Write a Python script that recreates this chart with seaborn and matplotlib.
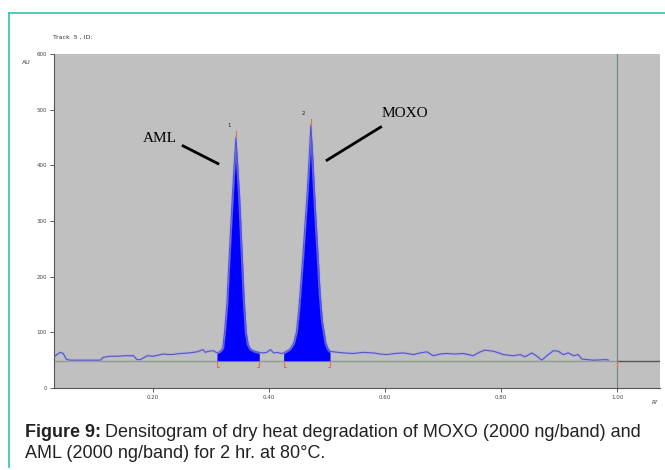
import numpy as np
import pandas as pd
import matplotlib
matplotlib.use("Agg")
import matplotlib.pyplot as plt
from matplotlib.lines import Line2D
import seaborn as sns

# densitogram trace (Rf, AU)
rf_left = [0.029, 0.034, 0.040, 0.045, 0.050, 0.056, 0.062, 0.075, 0.090, 0.109, 0.114,
           0.125, 0.138, 0.152, 0.166, 0.172, 0.178, 0.190, 0.200, 0.217, 0.232, 0.247,
           0.262, 0.276, 0.286, 0.290, 0.295, 0.304, 0.310]
au_left = [56, 60, 64, 62, 52, 50, 50, 50, 50, 50, 55,
           57, 57, 58, 58, 51, 51, 58, 57, 61, 60, 62,
           63, 65, 69, 64, 66, 67, 63]

rf_peak1 = [0.310, 0.316, 0.320, 0.323, 0.327, 0.3305, 0.3338, 0.3368, 0.3396, 0.3426,
            0.3455, 0.3488, 0.3515, 0.3542, 0.357, 0.3605, 0.364, 0.368, 0.375, 0.383]
au_peak1 = [63, 66, 72, 100, 150, 225, 290, 350, 400, 450,
            405, 350, 290, 225, 160, 100, 78, 70, 66, 64]

rf_mid = [0.383, 0.390, 0.396, 0.402, 0.408, 0.414, 0.420, 0.425]
au_mid = [64, 63, 64, 69, 63, 64, 62, 63]

rf_peak2 = [0.425, 0.430, 0.436, 0.442, 0.4470, 0.451, 0.4580, 0.4622, 0.4655, 0.4688, 0.4719,
            0.4750, 0.4784, 0.4810, 0.4845, 0.4880, 0.4920, 0.4950, 0.498, 0.502, 0.505]
au_peak2 = [63, 66, 70, 80, 100, 140, 236, 300, 350, 410, 472,
            420, 350, 300, 236, 170, 120, 100, 80, 70, 66]

rf_right = [0.505, 0.511, 0.528, 0.545, 0.562, 0.580, 0.592, 0.603, 0.617, 0.632, 0.649,
            0.660, 0.672, 0.683, 0.695, 0.706, 0.720, 0.735, 0.752, 0.762, 0.772, 0.787,
            0.796, 0.804, 0.821, 0.833, 0.841, 0.853, 0.862, 0.870, 0.879, 0.890, 0.899,
            0.907, 0.916, 0.925, 0.933, 0.939, 0.959, 0.982, 0.985]
au_right = [66, 65, 63, 62, 64, 63, 61, 60, 62, 63, 60,
            63, 65, 58, 61, 62, 61, 62, 58, 64, 68, 66,
            63, 60, 58, 60, 56, 63, 57, 50, 58, 67, 66,
            60, 63, 58, 60, 52, 50, 51, 50]

baseline_au = 49
peak_labels = ["1", "2"]
peak_start = [0.310, 0.425]
peak_end = [0.383, 0.505]
peak_top_rf = [0.3426, 0.4719]
peak_top_au = [450, 472]
front_rf = 1.0

yticks = [0, 100, 200, 300, 400, 500, 600]
xticks = [0.20, 0.40, 0.60, 0.80, 1.00]

trace = pd.DataFrame({
    "Rf": rf_left + rf_peak1 + rf_mid + rf_peak2 + rf_right,
    "AU": au_left + au_peak1 + au_mid + au_peak2 + au_right,
})

W, H = 665, 470
fig = plt.figure(figsize=(W / 100, H / 100), dpi=100)
ax = fig.add_axes([54 / W, 1 - 388 / H, (660 - 54) / W, (388 - 54) / H])
ax.set_facecolor("#c0c0c0")

ax.set_xlim(0.029, 1.074)
ax.set_ylim(0, 600)

# baseline and solvent front
ax.plot([0.029, front_rf], [baseline_au, baseline_au], color="#8e9c8e", lw=1.0, zorder=1)
ax.plot([front_rf, 1.074], [baseline_au, baseline_au], color="#555555", lw=1.0, zorder=1)
ax.axvline(front_rf, color="#6f8e82", lw=0.9, zorder=1)

# filled peaks
for rfs, aus in [(rf_peak1, au_peak1), (rf_peak2, au_peak2)]:
    ax.fill_between(rfs, baseline_au, aus, color="#0000ff", lw=0, zorder=2)

# trace (light halo + line)
ax.plot(trace["Rf"], trace["AU"], color="#a9a9e6", lw=2.2, alpha=0.55, zorder=2.5)
sns.lineplot(data=trace, x="Rf", y="AU", sort=False, estimator=None,
             color="#5555c4", lw=0.8, ax=ax, zorder=3)

# integration markers
for s, e in zip(peak_start, peak_end):
    ax.plot([s, s, s + 0.004], [baseline_au, 37, 37], color="#e0704f", lw=0.8, zorder=4)
    ax.plot([e, e, e - 0.004], [baseline_au, 37, 37], color="#e0704f", lw=0.8, zorder=4)
ax.plot([front_rf, front_rf], [baseline_au, 37], color="#e0704f", lw=0.8, zorder=4)
for lab, x, y in zip(peak_labels, peak_top_rf, peak_top_au):
    ax.plot([x, x], [y, y + 12], color="#e0704f", lw=0.8, zorder=4)
    ax.text(x - 0.012, y + 22, lab, fontsize=4, color="#222222", ha="center", va="center")

# compound annotations
ax.text(0.212, 449, "AML", family="Liberation Serif", fontsize=11, ha="center", va="center")
ax.plot([0.2495, 0.3138], [436, 402], color="black", lw=2, solid_capstyle="butt")
ax.text(0.6345, 494, "MOXO", family="Liberation Serif", fontsize=11, ha="center", va="center")
ax.plot([0.5943, 0.4978], [470, 408], color="black", lw=2, solid_capstyle="butt")

ax.set_xticks(xticks)
ax.set_xticklabels([f"{t:.2f}" for t in xticks])
ax.set_yticks(yticks)
ax.tick_params(labelsize=4, colors="#444444", length=3, width=0.6, pad=2)
ax.set_xlabel("")
ax.set_ylabel("")
for side in ["top", "right"]:
    ax.spines[side].set_visible(False)
for side in ["left", "bottom"]:
    ax.spines[side].set_color("#555555")
    ax.spines[side].set_linewidth(0.8)

fig.text(22 / W, 1 - 62 / H, "AU", fontsize=4.5, color="#444444", va="center")
fig.text(53 / W, 1 - 37 / H, "Track  5 , ID:", fontsize=4.5, color="#333333", va="center")
fig.text(652 / W, 1 - 403 / H, "Rf", fontsize=4, color="#444444", style="italic", va="center")

# teal frame (top and left)
fig.add_artist(Line2D([9 / W, 1], [1 - 13 / H, 1 - 13 / H], color="#2cc4ae", lw=1.2))
fig.add_artist(Line2D([9 / W, 9 / W], [1 - 13 / H, 1 - 467 / H], color="#2cc4ae", lw=1.2))

# caption
cap_size = 13
fig.canvas.draw()
r = fig.canvas.get_renderer()
bold = fig.text(25 / W, 1 - 437 / H, "Figure 9:", family="Liberation Sans",
                fontweight="bold", fontsize=cap_size, color="#222222", va="baseline")
bb = bold.get_window_extent(renderer=r)
fig.text(bb.x1 / W + 4 / W, 1 - 437 / H,
         "Densitogram of dry heat degradation of MOXO (2000 ng/band) and",
         family="Liberation Sans", fontsize=cap_size, color="#222222", va="baseline")
fig.text(25 / W, 1 - 458 / H, "AML (2000 ng/band) for 2 hr. at 80°C.",
         family="Liberation Sans", fontsize=cap_size, color="#222222", va="baseline")

fig.savefig("out.png", dpi=100)
